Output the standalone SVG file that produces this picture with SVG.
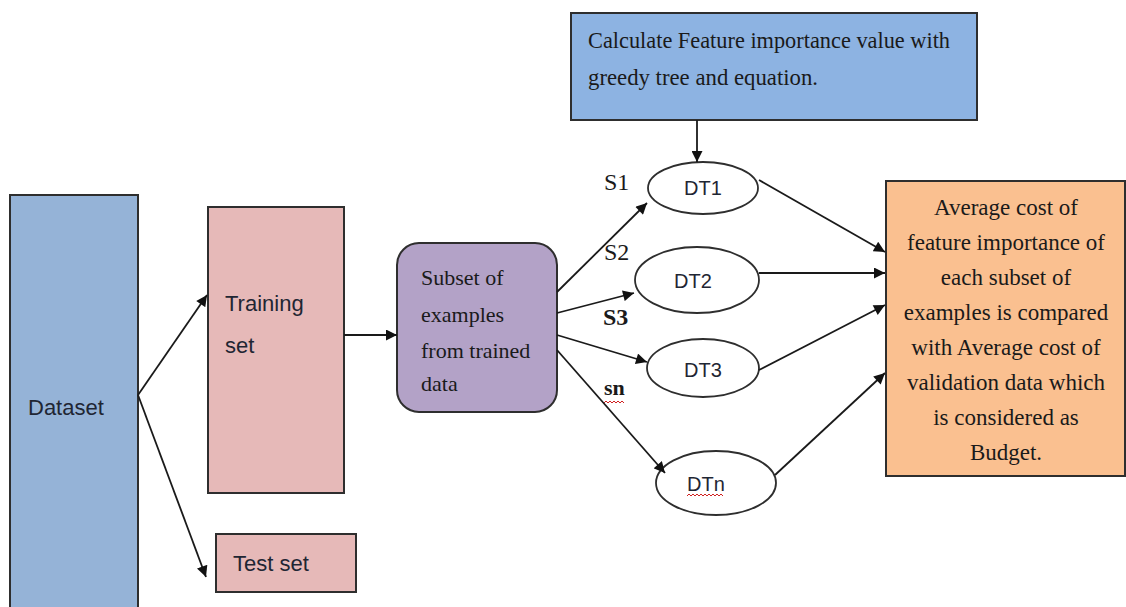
<svg xmlns="http://www.w3.org/2000/svg" width="1126" height="607" viewBox="0 0 1126 607">
<defs>
<marker id="ah" viewBox="0 0 10 10" refX="10" refY="5" markerWidth="12" markerHeight="11" markerUnits="userSpaceOnUse" orient="auto">
<path d="M0,0 L10,5 L0,10 z" fill="#111"/>
</marker>
<style>
.box{stroke:#2e2e2e;stroke-width:2}
.ell{fill:#fff;stroke:#2e2e2e;stroke-width:1.8}
.sans{font-family:"Liberation Sans",Arial,sans-serif;fill:#1f2633}
.serif{font-family:"Liberation Serif","Times New Roman",serif;fill:#1a1a1a}
.con{stroke:#1a1a1a;stroke-width:1.8;fill:none;marker-end:url(#ah)}
.wavy{stroke:#d02020;stroke-width:1;fill:none}
</style>
</defs>
<rect width="1126" height="607" fill="#fff"/>

<g id="dataset">
<rect class="box" x="10" y="195" width="128" height="420" fill="#95B3D7"/>
<text class="sans" x="28" y="415" font-size="22">Dataset</text>
</g>

<g id="training">
<rect class="box" x="208" y="207" width="136" height="286" fill="#E6B9B8"/>
<text class="sans" x="225" y="311" font-size="22">Training</text>
<text class="sans" x="225" y="353" font-size="22">set</text>
</g>

<g id="testset">
<rect class="box" x="216" y="534" width="140" height="58" fill="#E6B9B8"/>
<text class="sans" x="233" y="571" font-size="22">Test set</text>
</g>

<g id="subset">
<rect class="box" x="397" y="243" width="160" height="169" rx="22" ry="22" fill="#B3A2C7"/>
<text class="serif" font-size="22" x="421" y="285">Subset of</text>
<text class="serif" font-size="22" x="421" y="322">examples</text>
<text class="serif" font-size="22" x="421" y="358">from trained</text>
<text class="serif" font-size="22" x="421" y="391">data</text>
</g>

<g id="calc">
<rect class="box" x="571" y="13" width="406" height="107" fill="#8DB3E2"/>
<text class="serif" font-size="23" x="588" y="48" textLength="362" lengthAdjust="spacingAndGlyphs">Calculate Feature importance value with</text>
<text class="serif" font-size="23" x="588" y="85" textLength="230" lengthAdjust="spacingAndGlyphs">greedy tree and equation.</text>
</g>

<g id="dt1">
<ellipse class="ell" cx="703" cy="188" rx="55" ry="26"/>
<text class="sans" font-size="20" x="703" y="195" text-anchor="middle">DT1</text>
</g>
<g id="dt2">
<ellipse class="ell" cx="697" cy="280" rx="62" ry="33"/>
<text class="sans" font-size="20" x="693" y="288" text-anchor="middle">DT2</text>
</g>
<g id="dt3">
<ellipse class="ell" cx="703" cy="368" rx="56" ry="29"/>
<text class="sans" font-size="20" x="703" y="377" text-anchor="middle">DT3</text>
</g>
<g id="dtn">
<ellipse class="ell" cx="716" cy="483" rx="60" ry="32"/>
<text class="sans" font-size="20" x="706" y="491" text-anchor="middle">DTn</text>
<path class="wavy" d="M687,496 l2,-2 l2,2 l2,-2 l2,2 l2,-2 l2,2 l2,-2 l2,2 l2,-2 l2,2 l2,-2 l2,2 l2,-2 l2,2 l2,-2 l2,2 l2,-2 l2,2"/>
</g>

<g id="result">
<rect class="box" x="886" y="181" width="239" height="295" fill="#FAC090"/>
<g class="serif" font-size="23" text-anchor="middle">
<text x="1006" y="215">Average cost of</text>
<text x="1006" y="250">feature importance of</text>
<text x="1006" y="285">each subset of</text>
<text x="1006" y="320">examples is compared</text>
<text x="1006" y="355">with Average cost of</text>
<text x="1006" y="390">validation data which</text>
<text x="1006" y="425">is considered as</text>
<text x="1006" y="460">Budget.</text>
</g>
</g>

<g id="labels">
<text class="serif" font-size="24" x="604" y="190">S1</text>
<text class="serif" font-size="24" x="604" y="260">S2</text>
<text class="serif" font-size="24" font-weight="bold" x="603" y="325">S3</text>
<text class="serif" font-size="22" font-weight="bold" x="604" y="395">sn</text>
<path class="wavy" d="M604,403 l2,-2 l2,2 l2,-2 l2,2 l2,-2 l2,2 l2,-2 l2,2 l2,-2 l2,2"/>
</g>

<g id="connectors">
<line class="con" x1="138" y1="395" x2="207" y2="295"/>
<line class="con" x1="138" y1="395" x2="206" y2="577"/>
<line class="con" x1="344" y1="335" x2="397" y2="335"/>
<line class="con" x1="557" y1="292" x2="647" y2="203"/>
<line class="con" x1="557" y1="313" x2="634" y2="293"/>
<line class="con" x1="557" y1="335" x2="647" y2="362"/>
<line class="con" x1="557" y1="350" x2="665" y2="473"/>
<line class="con" x1="697" y1="120" x2="697" y2="162"/>
<line class="con" x1="759" y1="180" x2="885" y2="252"/>
<line class="con" x1="759" y1="273" x2="885" y2="273"/>
<line class="con" x1="759" y1="370" x2="885" y2="305"/>
<line class="con" x1="775" y1="475" x2="885" y2="373"/>
</g>
</svg>
